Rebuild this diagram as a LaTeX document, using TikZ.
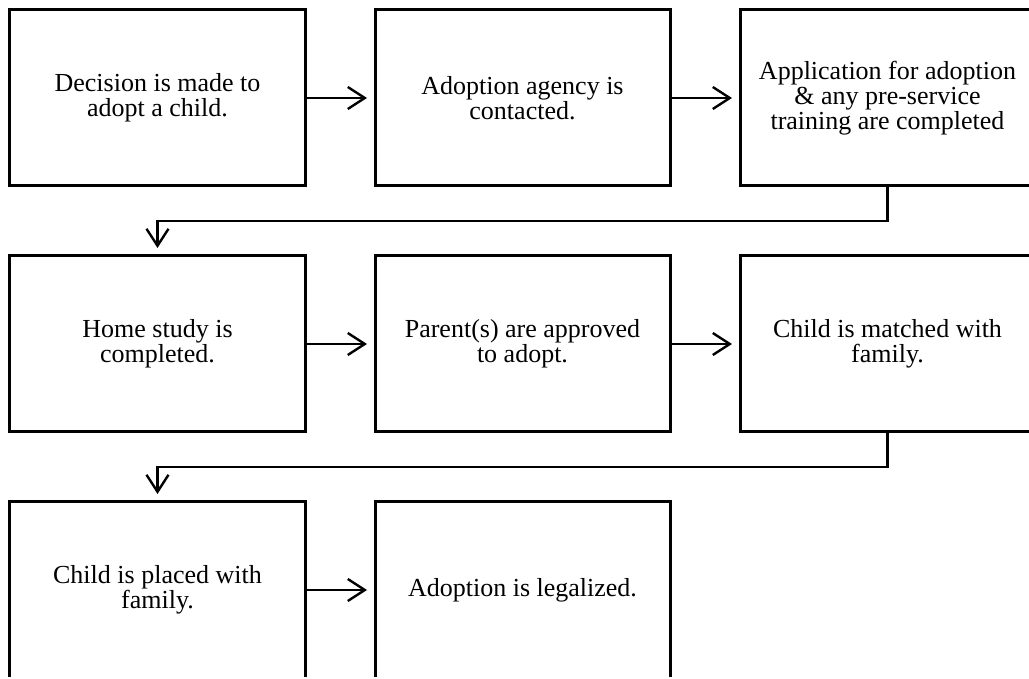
\documentclass[tikz,border=0pt]{standalone}
\usepackage{fontspec}
\setmainfont{Liberation Serif}
\usetikzlibrary{positioning, arrows.meta}

\begin{document}
\begin{tikzpicture}[
  line width=1.5pt,        % box lines
  >={Straight Barb[length=8.5pt, width=11pt]},
  font=\fontsize{13}{12.5}\selectfont,
  block/.style={draw, rectangle, outer sep=0pt, align=center,
                minimum width=147.5pt, minimum height=88pt},
  flow/.style={->, line width=1.2pt, shorten >=4pt},
  node distance=35pt
  ]

  % --- frame (right column and last row run off the page) ---
  \useasboundingbox (-5pt,5pt) rectangle (509.5pt,-334.5pt);
  \clip (-5pt,5pt) rectangle (509.5pt,-333pt);

  % --- 1st row ---
  \node [block, anchor=north west] (decide) at (0,0) {Decision is made to\\adopt a child.};
  \node [block, right=of decide] (agency) {Adoption agency is\\contacted.};
  \node [block, right=of agency] (apply) {Application for adoption\\\& any pre-service\\training are completed};
  \draw [flow] (decide.east) -- (agency.west);
  \draw [flow] (agency.east) -- (apply.west);

  % --- 2nd row ---
  \node [block, below=of decide] (study) {Home study is\\completed.};
  \node [block, right=of study] (approve) {Parent(s) are approved\\to adopt.};
  \node [block, right=of approve] (match) {Child is matched with\\family.};
  \draw [flow] (apply.south) -- ++(0,-17.5pt) -| (study.north);
  \draw [flow] (study.east) -- (approve.west);
  \draw [flow] (approve.east) -- (match.west);

  % --- 3rd row ---
  \node [block, below=of study] (place) {Child is placed with\\family.};
  \node [block, right=of place] (legal) {Adoption is legalized.};
  \draw [flow] (match.south) -- ++(0,-17.5pt) -| (place.north);
  \draw [flow] (place.east) -- (legal.west);

\end{tikzpicture}
\end{document}
